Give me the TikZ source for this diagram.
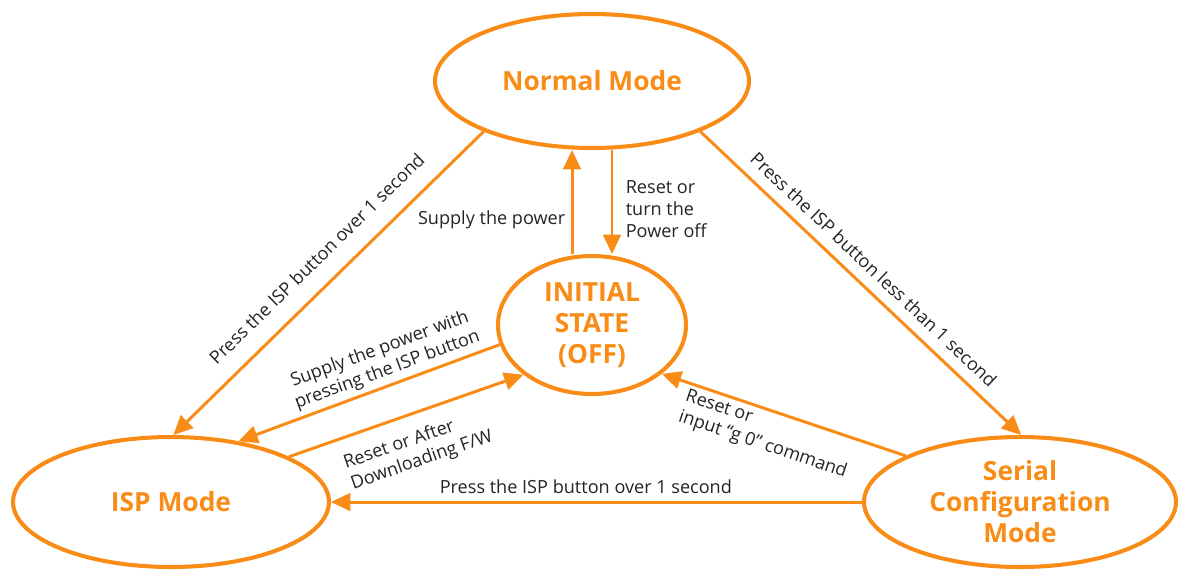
\documentclass[tikz,border=0pt]{standalone}
\usepackage{fontspec}
\setmainfont{Open Sans}
\usetikzlibrary{shapes.geometric,arrows.meta}
\definecolor{modeorange}{RGB}{248,140,22}
\definecolor{labelgray}{RGB}{35,35,40}

\begin{document}
\begin{tikzpicture}[%
      x=0.02cm, y=-0.02cm,
      state/.style={ellipse, draw=modeorange, line width=2.3pt, inner sep=0pt,
        text=modeorange, align=center, font=\fontsize{15}{17.6}\selectfont\bfseries},
      trans/.style={draw=modeorange, line width=1.7pt, -{Triangle[length=11pt,width=10pt]}},
      lbl/.style={text=labelgray, inner sep=1pt, font=\fontsize{10.3}{12.5}\selectfont},
      ]
      \useasboundingbox (0,0) rectangle (1179,569);

      % the four modes
      \node[state, minimum width=6.28cm, minimum height=2.68cm] (normal) at (592,81) {Normal Mode};
      \node[state, minimum width=3.76cm, minimum height=2.76cm] (init) at (592,325) {INITIAL\\STATE\\(OFF)};
      \node[state, minimum width=6.32cm, minimum height=2.6cm] (isp) at (171,502) {ISP Mode};
      \node[state, minimum width=6.24cm, minimum height=2.6cm] (serial) at (1020,502) {Serial\\Configuration\\Mode};

      % transitions
      \draw[trans] (normal.205) -- node[lbl, sloped, above, pos=0.48, inner ysep=10pt] {Press the ISP button over 1 second} (isp.88);
      \draw[trans] (normal.-25) -- node[lbl, sloped, above, pos=0.5, inner ysep=6pt] {Press the ISP button less than 1 second} (serial.89);
      \draw[trans] ([xshift=-0.4cm]init.north) -- node[lbl, left=2pt, pos=0.33] {Supply the power} ([xshift=-0.4cm]normal.south);
      \draw[trans] ([xshift=0.4cm]normal.south) -- node[lbl, right=6pt, pos=0.57, align=left] {Reset or\\turn the\\Power off} ([xshift=0.4cm]init.north);
      \draw[trans] (init.192) -- node[lbl, sloped, above, pos=0.41, inner ysep=2.5pt, align=center] {Supply the power with\\pressing the ISP button} (isp.42);
      \draw[trans] (isp.21) -- node[lbl, sloped, below, pos=0.5, inner ysep=8.5pt, align=left] {Reset or After\\Downloading F/W} (init.216);
      \draw[trans] (serial.158) -- node[lbl, sloped, below, pos=0.54, inner ysep=2pt, align=left] {Reset or\\input “g 0” command} (init.-35);
      \draw[trans] (serial.west) -- node[lbl, above=3pt, pos=0.52] {Press the ISP button over 1 second} (isp.east);
\end{tikzpicture}
\end{document}
